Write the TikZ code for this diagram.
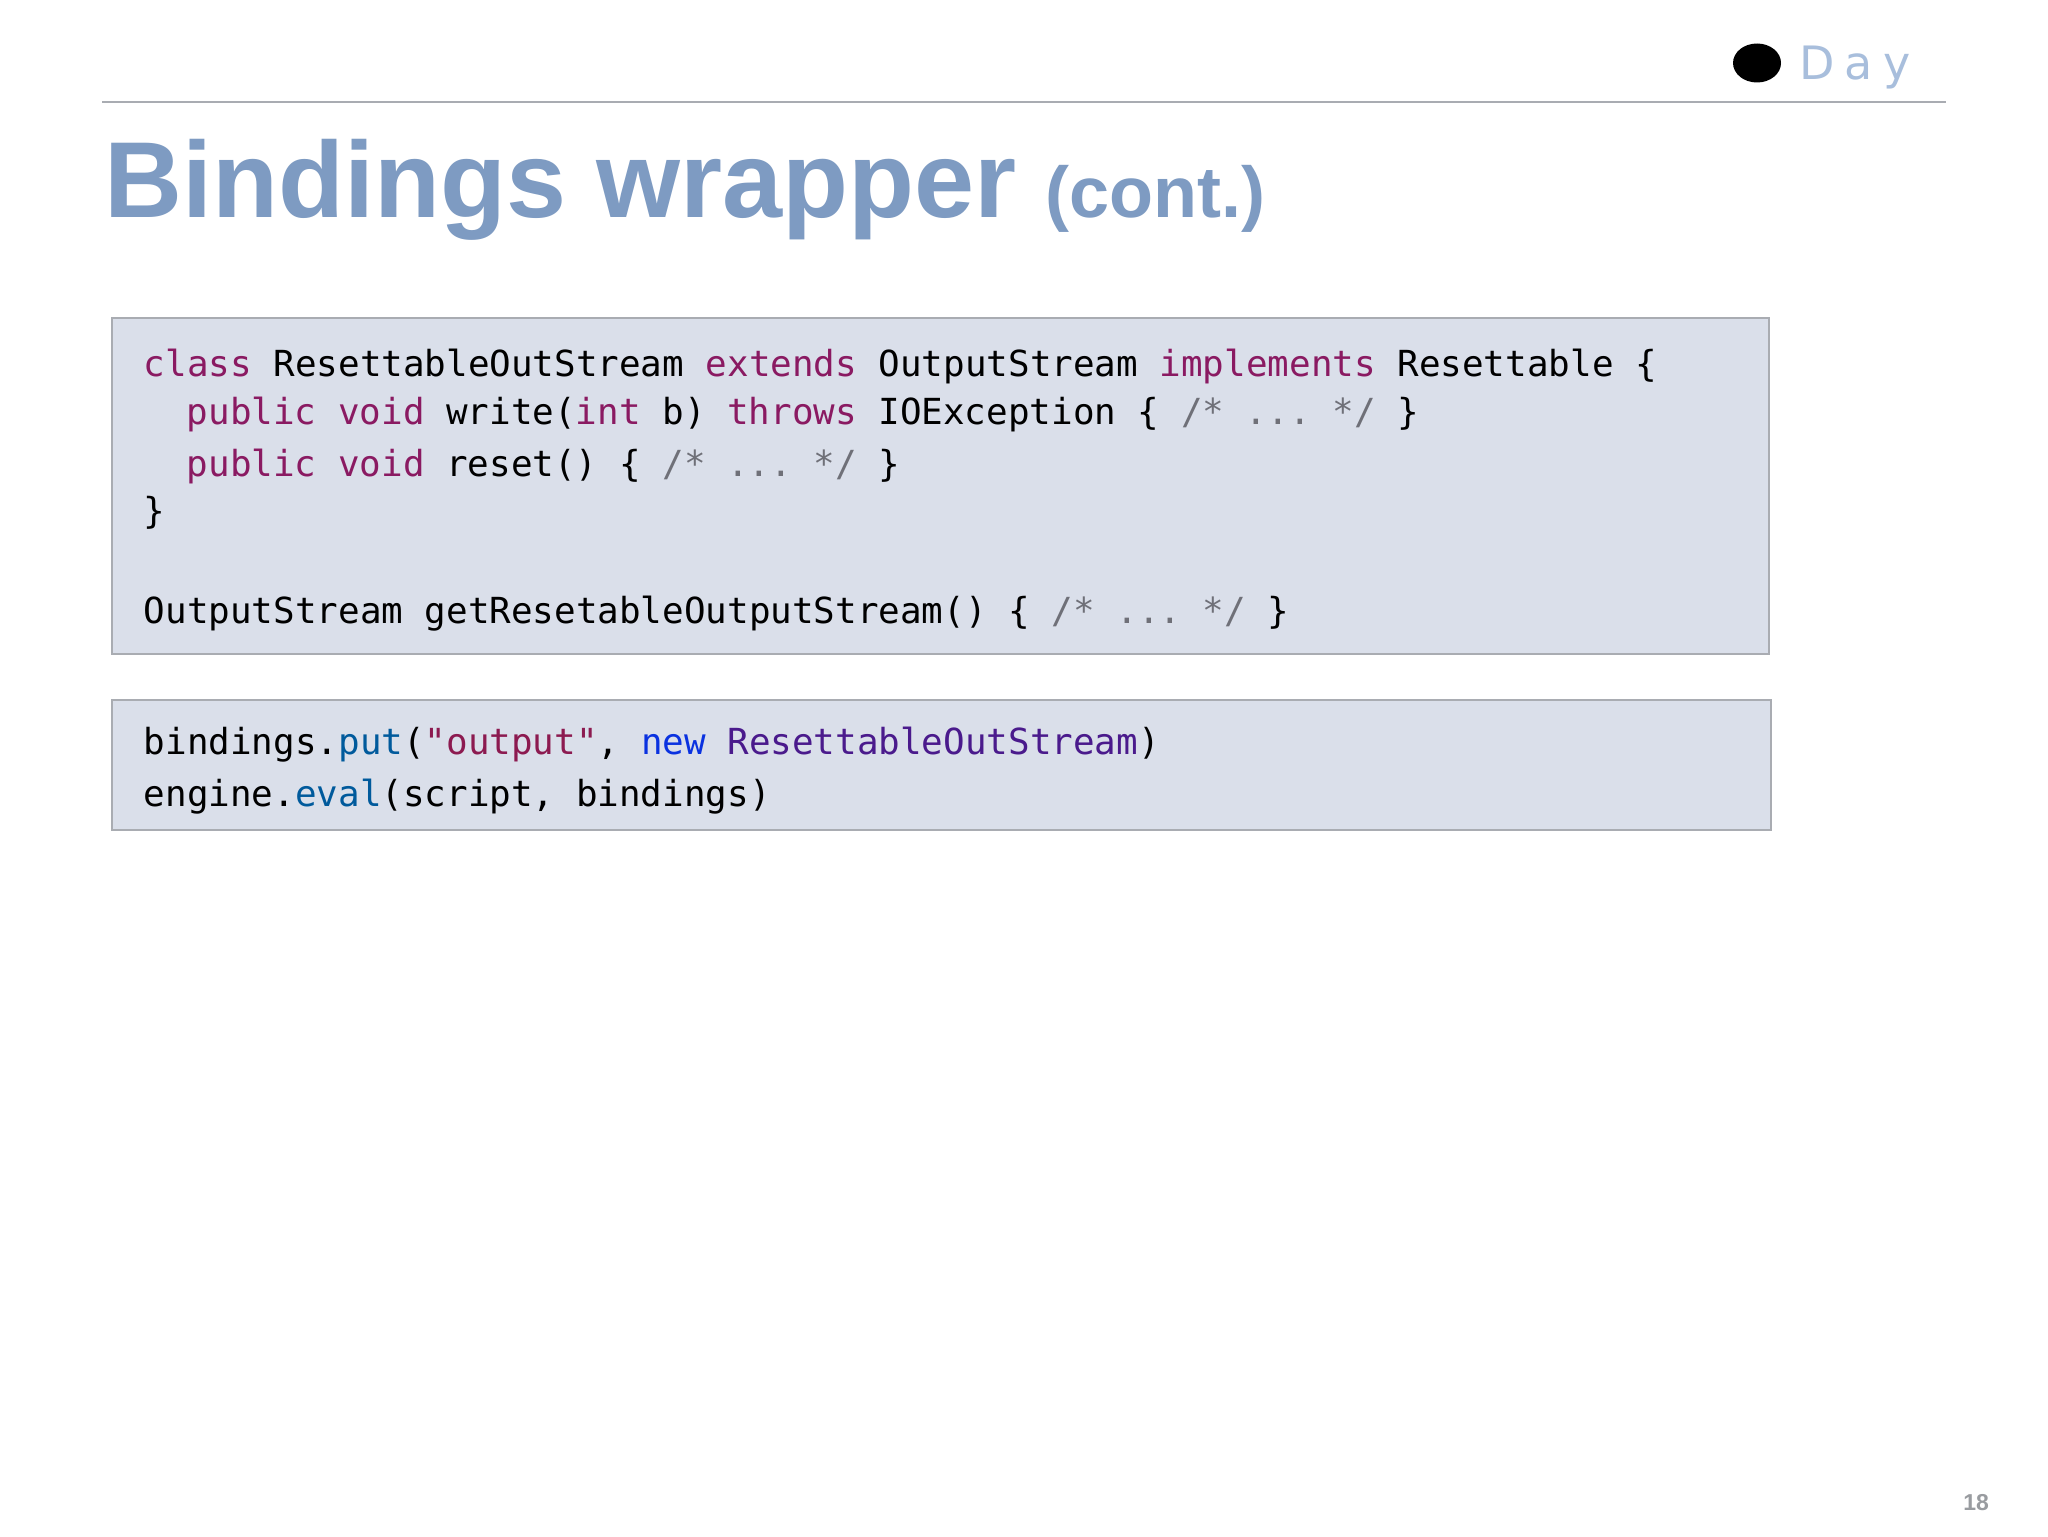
\documentclass[tikz,border=0pt]{standalone}
\usepackage{fontspec}
\setmainfont{Liberation Sans}
\setmonofont{DejaVu Sans Mono}
\newfontfamily\dayfont[LetterSpace=22]{DejaVu Sans}
\usepackage{tikz}
\usetikzlibrary{shapes.geometric}
\definecolor{titleblue}{HTML}{7E9BC2}
\definecolor{boxfill}{HTML}{DADFEA}
\definecolor{boxline}{HTML}{A9ACB2}
\definecolor{keyword}{HTML}{8A1A62}
\definecolor{comment}{HTML}{6F7078}
\definecolor{method}{HTML}{005A9C}
\definecolor{stringc}{HTML}{8C1A50}
\definecolor{newkw}{HTML}{0A32E0}
\definecolor{classc}{HTML}{4A1A8C}
\definecolor{dayblue}{HTML}{A8BEDC}
\definecolor{pagegray}{HTML}{999CA0}
\newcommand{\kw}[1]{\textcolor{keyword}{#1}}
\newcommand{\cm}[1]{\textcolor{comment}{#1}}
\tikzset{
  codebox/.style={draw=boxline,line width=1pt,fill=boxfill,anchor=north west,inner sep=0pt},
  codeline/.style={anchor=base west,inner sep=0pt,font=\fontsize{17.95pt}{20pt}\ttfamily,text=black},
}
\begin{document}
\begin{tikzpicture}[x=0.5pt,y=-0.5pt]
        \useasboundingbox (0,0) rectangle (2048,1536);
        \fill[white] (0,0) rectangle (2048,1536);
        % header
        \coordinate (ruleleft) at (102,102);
        \coordinate (ruleright) at (1946,102);
        \draw[line width=0.6pt,color=boxline] (ruleleft) -- (ruleright);
        \node (logodot) at (1757,63) [ellipse,fill=black,minimum width=24pt,minimum height=19.5pt,inner sep=0pt] {};
        \node (logotext) at (1799,80) [anchor=base west,inner sep=0pt,text=dayblue,font=\fontsize{23pt}{26pt}\dayfont] {Day};
        \node (title) at (104,217.5) [anchor=base west,inner sep=0pt,text=titleblue,font=\fontsize{54pt}{60pt}\bfseries] {Bindings wrapper};
        \node (titlecont) at (1045,217.5) [anchor=base west,inner sep=0pt,text=titleblue,font=\fontsize{36pt}{40pt}\bfseries] {(cont.)};
        % first box
        \node (classbox) at (111,317) [codebox,minimum width=828.5pt,minimum height=168pt] {};
        \node (classline) at (143.5,376) [codeline] {\kw{class} ResettableOutStream \kw{extends} OutputStream \kw{implements} Resettable \{};
        \node (writeline) at (186.5,424) [codeline] {\kw{public} \kw{void} write(\kw{int} b) \kw{throws} IOException \{ \cm{/* ... */} \}};
        \node (resetline) at (186.5,476) [codeline] {\kw{public} \kw{void} reset() \{ \cm{/* ... */} \}};
        \node (closeline) at (143.5,523) [codeline] {\}};
        \node (getterline) at (143.5,623) [codeline] {OutputStream getResetableOutputStream() \{ \cm{/* ... */} \}};
        % second box
        \node (callbox) at (111,699) [codebox,minimum width=829.5pt,minimum height=65pt] {};
        \node (putline) at (143.5,754) [codeline] {bindings.\textcolor{method}{put}(\textcolor{stringc}{"output"}, \textcolor{newkw}{new} \textcolor{classc}{ResettableOutStream})};
        \node (evalline) at (143.5,806) [codeline] {engine.\textcolor{method}{eval}(script, bindings)};
        % page number
        \node (pagenum) at (1963,1510.5) [anchor=base west,inner sep=0pt,text=pagegray,font=\fontsize{11.5pt}{12pt}\bfseries] {18};
\end{tikzpicture}
\end{document}
